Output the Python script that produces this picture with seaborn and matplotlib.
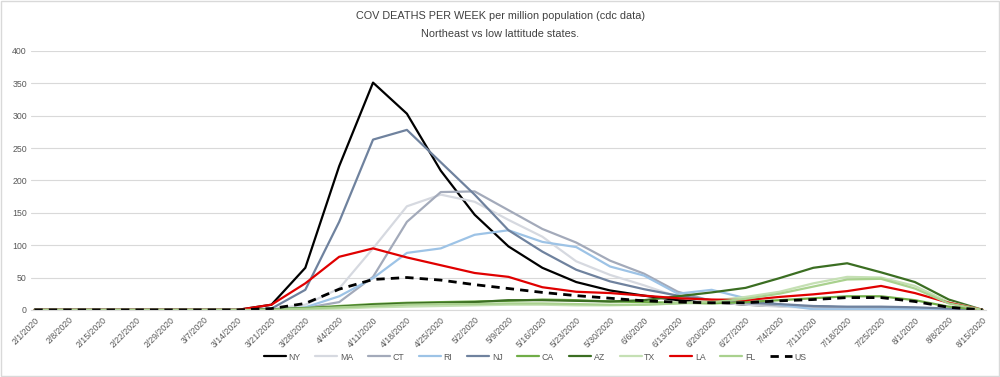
import matplotlib
matplotlib.use("Agg")
import matplotlib.pyplot as plt
import seaborn as sns
import pandas as pd
from matplotlib.patches import Rectangle

# Du lieu doc tu bieu do (deaths per week per million)
dates = ['2/1/2020', '2/8/2020', '2/15/2020', '2/22/2020', '2/29/2020', '3/7/2020',
         '3/14/2020', '3/21/2020', '3/28/2020', '4/4/2020', '4/11/2020', '4/18/2020',
         '4/25/2020', '5/2/2020', '5/9/2020', '5/16/2020', '5/23/2020', '5/30/2020',
         '6/6/2020', '6/13/2020', '6/20/2020', '6/27/2020', '7/4/2020', '7/11/2020',
         '7/18/2020', '7/25/2020', '8/1/2020', '8/8/2020', '8/15/2020']
lead = [0, 0, 0, 0, 0, 0, 0]

ny = lead + [8, 65, 222, 351, 303, 215, 147, 98, 65, 43, 30, 22, 15, 12, 8, 6, 5, 4, 3, 2, 1, 0]
ma = lead + [1, 8, 33, 95, 160, 178, 167, 139, 113, 75, 54, 38, 20, 12, 8, 5, 3, 2, 2, 1, 1, 0]
ct = lead + [1, 3, 12, 51, 136, 182, 183, 154, 125, 104, 76, 56, 28, 14, 10, 7, 5, 4, 3, 2, 1, 0]
ri = lead + [0, 4, 21, 49, 88, 95, 116, 123, 105, 97, 67, 53, 25, 31, 18, 8, 1, 1, 1, 1, 1, 0]
nj = lead + [2, 31, 136, 263, 278, 228, 178, 123, 90, 62, 44, 32, 22, 15, 12, 9, 6, 5, 5, 4, 2, 0]
ca = lead + [1, 3, 6, 9, 11, 12, 13, 14, 16, 15, 13, 12, 11, 10, 12, 15, 18, 21, 21, 15, 5, 0]
az = lead + [1, 2, 5, 8, 10, 11, 12, 15, 15, 14, 13, 15, 21, 27, 34, 49, 65, 72, 58, 43, 16, 0]
tx = lead + [0, 1, 2, 4, 5, 6, 7, 8, 8, 7, 7, 8, 10, 14, 20, 28, 41, 51, 50, 37, 12, 0]
la = lead + [8, 41, 82, 95, 81, 69, 57, 51, 35, 28, 26, 22, 18, 16, 15, 20, 24, 29, 37, 26, 11, 0]
fl = lead + [0, 2, 4, 6, 8, 9, 9, 10, 10, 9, 8, 8, 10, 12, 17, 25, 36, 47, 48, 33, 10, 0]
us = lead + [2, 10, 32, 47, 50, 46, 39, 33, 27, 22, 18, 14, 12, 11, 11, 14, 16, 19, 19, 13, 4, 0]

series = [('NY', ny, '#000000'), ('MA', ma, '#d6d9e0'), ('CT', ct, '#a3aaba'),
          ('RI', ri, '#9dc3e6'), ('NJ', nj, '#6f829e'), ('CA', ca, '#70ad47'),
          ('AZ', az, '#3b6e22'), ('TX', tx, '#c5e0b4'), ('LA', la, '#e00000'),
          ('FL', fl, '#a9d18e'), ('US', us, '#000000')]


def plot_chart():
    sns.set_style("white")
    plt.rcParams['font.family'] = ['Liberation Sans', 'DejaVu Sans']

    fig = plt.figure(figsize=(10, 3.77), dpi=100)
    ax = fig.add_axes([0.031, 0.178, 0.955, 0.687])

    idx = list(range(len(dates)))
    for name, vals, col in series:
        df = pd.DataFrame({'week': idx, 'val': vals})
        ls = (0, (3, 2.2)) if name == 'US' else '-'
        lw = 2.0 if name == 'US' else 1.6
        sns.lineplot(data=df, x='week', y='val', ax=ax, color=col, linewidth=lw,
                     linestyle=ls, label=name)

    ax.set_xlim(-0.1, len(dates) - 0.9)
    ax.set_ylim(0, 400)
    ax.set_yticks(range(0, 401, 50))
    ax.set_xticks(idx)
    ax.set_xticklabels(dates, rotation=45, ha='right', rotation_mode='anchor')
    ax.tick_params(axis='both', labelsize=6.3, colors='#595959', length=0, pad=3)
    ax.tick_params(axis='x', pad=4)
    ax.yaxis.grid(True, color='#d9d9d9', linewidth=0.8)
    ax.set_axisbelow(True)
    for s in ['top', 'right', 'left']:
        ax.spines[s].set_visible(False)
    ax.spines['bottom'].set_color('#d9d9d9')
    ax.set_xlabel('')
    ax.set_ylabel('')

    fig.text(0.5, 0.957, 'COV DEATHS PER WEEK per million population (cdc data)',
             ha='center', va='center', fontsize=7.8, color='#404040')
    fig.text(0.5, 0.909, 'Northeast vs low lattitude states.',
             ha='center', va='center', fontsize=7.8, color='#404040')

    ax.legend(loc='center', bbox_to_anchor=(0.528, -0.182), ncol=11, frameon=False,
              fontsize=6.3, handlelength=2.5, handletextpad=0.3, columnspacing=1.7,
              labelcolor='#595959')

    fig.patches.append(Rectangle((0.001, 0.002), 0.998, 0.996, transform=fig.transFigure,
                                 fill=False, edgecolor='#d9d9d9', linewidth=1))
    fig.savefig('out.png', dpi=100)


if __name__ == "__main__":
    plot_chart()
